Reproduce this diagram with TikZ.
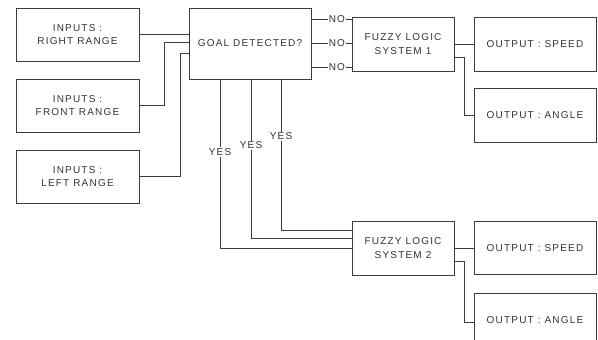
\documentclass[tikz,border=0pt]{standalone}
\usepackage{fontspec}
\setmainfont{Liberation Sans}[LetterSpace=12]
\begin{document}
\begin{tikzpicture}[x=1pt,y=-1pt,
  line width=1pt,
  box/.style={draw=linec, line width=1pt, rectangle, inner sep=0pt, align=center,
    text=textc, font=\fontsize{10}{13.3}\selectfont},
  conn/.style={draw=linec, line width=1pt},
  lbl/.style={fill=white, inner sep=1pt, text=textc, font=\fontsize{10}{12}\selectfont}]
\definecolor{linec}{HTML}{3C3C3C}
\definecolor{textc}{HTML}{333333}
\useasboundingbox (0,0) rectangle (598,340);
\clip (0,0) rectangle (598,340);
% inputs
\node[box, minimum width=123pt, minimum height=53pt] (in1) at (77.5,34.5) {INPUTS :\\RIGHT RANGE};
\node[box, minimum width=123pt, minimum height=53pt] (in2) at (77.5,105.5) {INPUTS :\\FRONT RANGE};
\node[box, minimum width=123pt, minimum height=53pt] (in3) at (77.5,176.5) {INPUTS :\\LEFT RANGE};
% goal
\node[box, minimum width=122pt, minimum height=71pt] (goal) at (250,43.5) {GOAL DETECTED?};
% fuzzy systems
\node[box, minimum width=102pt, minimum height=54pt] (fz1) at (403,44) {FUZZY LOGIC\\SYSTEM 1};
\node[box, minimum width=102pt, minimum height=54pt] (fz2) at (403,248) {FUZZY LOGIC\\SYSTEM 2};
% outputs
\node[box, minimum width=122pt, minimum height=54pt] (sp1) at (535,44) {OUTPUT : SPEED};
\node[box, minimum width=122pt, minimum height=54pt] (an1) at (535,115) {OUTPUT : ANGLE};
\node[box, minimum width=122pt, minimum height=53pt] (sp2) at (535,248) {OUTPUT : SPEED};
\node[box, minimum width=122pt, minimum height=54pt] (an2) at (535,320) {OUTPUT : ANGLE};
% join points
\coordinate (g1) at (189,34);
\coordinate (g2) at (189,42);
\coordinate (g3) at (189,53);
\coordinate (n1) at (311,19);
\coordinate (n2) at (311,43);
\coordinate (n3) at (311,67);
\coordinate (y1) at (220,79);
\coordinate (y2) at (251,79);
\coordinate (y3) at (281,79);
\coordinate (f1) at (352,248);
\coordinate (f2) at (352,238);
\coordinate (f3) at (352,230);
\coordinate (o1) at (454,57);
\coordinate (o2) at (454,261);
% input connectors
\draw[conn] (in1.east |- g1) -- (g1);
\draw[conn] (in2.east) -- ++(25,0) |- (g2);
\draw[conn] (in3.east) -- ++(41,0) |- (g3);
% NO connectors
\draw[conn] (n1) -- (n1 -| fz1.west) node[lbl, pos=0.64] {NO};
\draw[conn] (n2) -- (n2 -| fz1.west) node[lbl, pos=0.64] {NO};
\draw[conn] (n3) -- (n3 -| fz1.west) node[lbl, pos=0.64] {NO};
% YES connectors
\draw[conn] (y1) |- (f1) node[lbl, pos=0.216] {YES};
\draw[conn] (y2) |- (f2) node[lbl, pos=0.208] {YES};
\draw[conn] (y3) |- (f3) node[lbl, pos=0.189] {YES};
% output connectors
\draw[conn] (fz1.east) -- (sp1.west);
\draw[conn] (o1) -- ++(10,0) |- (an1.west);
\draw[conn] (fz2.east) -- (sp2.west);
\draw[conn] (o2) -- ++(10,0) |- ([yshift=-2pt]an2.west);
\end{tikzpicture}
\end{document}
